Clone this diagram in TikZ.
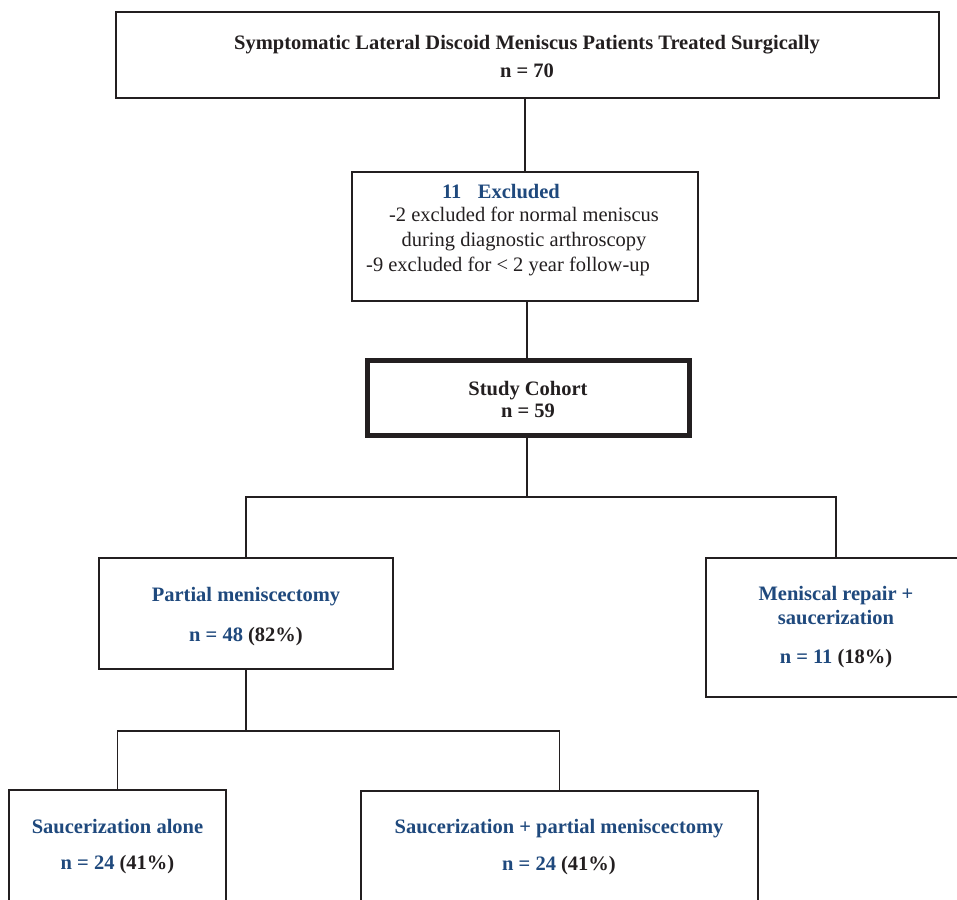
\documentclass[tikz,border=0pt]{standalone}
\usepackage{fontspec}
\setmainfont{Liberation Serif}
\definecolor{hblue}{RGB}{31,73,125}
\definecolor{tblack}{RGB}{35,31,32}
\begin{document}
\begin{tikzpicture}[x=1pt,y=-1pt,
  box/.style={draw=tblack,line width=1.1pt,inner sep=0pt},
  txt/.style={inner sep=0pt,font=\fontsize{20.5}{24}\selectfont,text=tblack,anchor=base},
  btxt/.style={txt,font=\fontsize{20.5}{24}\selectfont\bfseries},
  conn/.style={draw=tblack,line width=1.5pt}]
\useasboundingbox (0,0) rectangle (957,899);
\clip (0,0) rectangle (957,899);
\fill[white] (0,0) rectangle (957,899);
% top box
\node[box,minimum width=823pt,minimum height=86pt] (top) at (527.5,55) {};
\node[btxt] (t1) at (527,49) {Symptomatic Lateral Discoid Meniscus Patients Treated Surgically};
\node[btxt] (t2) at (527,77) {n = 70};
% excluded
\node[box,minimum width=346pt,minimum height=129pt] (excl) at (525,236.5) {};
\node[btxt,text=hblue] (e0) at (501,198) {11\hspace{0.8em}Excluded};
\node[txt] (e1) at (524,221) {-2 excluded for normal meniscus};
\node[txt] (e2) at (524,246) {during diagnostic arthroscopy};
\node[txt] (e3) at (508,271) {-9 excluded for < 2 year follow-up};
% cohort
\node[box,line width=5.5pt,minimum width=322pt,minimum height=75pt] (cohort) at (528.5,398) {};
\node[btxt] (c1) at (528,395) {Study Cohort};
\node[btxt] (c2) at (528,417) {n = 59};
% partial
\node[box,minimum width=294pt,minimum height=111pt] (partial) at (246,613.5) {};
\node[btxt,text=hblue] (p1) at (246,601) {Partial meniscectomy};
\node[btxt] (p2) at (246,641) {\textcolor{hblue}{n = 48} (82\%)};
% repair
\node[box,minimum width=260pt,minimum height=139pt] (repair) at (836,627.5) {};
\node[btxt,text=hblue] (r1) at (836,600) {Meniscal repair +};
\node[btxt,text=hblue] (r2) at (836,624) {saucerization};
\node[btxt] (r3) at (836,663) {\textcolor{hblue}{n = 11} (18\%)};
% bottom boxes
\node[box,minimum width=217pt,minimum height=160pt] (alone) at (117.5,870) {};
\node[btxt,text=hblue] (a1) at (117.5,833) {Saucerization alone};
\node[btxt] (a2) at (117.5,869) {\textcolor{hblue}{n = 24} (41\%)};
\node[box,minimum width=397pt,minimum height=160pt] (sp) at (559.5,871) {};
\node[btxt,text=hblue] (s1) at (559,833) {Saucerization + partial meniscectomy};
\node[btxt] (s2) at (559,870) {\textcolor{hblue}{n = 24} (41\%)};
% connectors
\coordinate (j1) at (527,497);
\coordinate (j2) at (246,731);
\draw[conn] (excl.north) -- (excl.north |- top.south);
\draw[conn] (j1 |- excl.south) -- (j1 |- cohort.north);
\draw[conn] (j1 |- cohort.south) -- (j1);
\draw[conn] (partial.north) |- (j1) -| (repair.north);
\draw[conn] (partial.south) -- (j2);
\draw[conn] (alone.north) |- (j2) -| (sp.north);
\end{tikzpicture}
\end{document}
